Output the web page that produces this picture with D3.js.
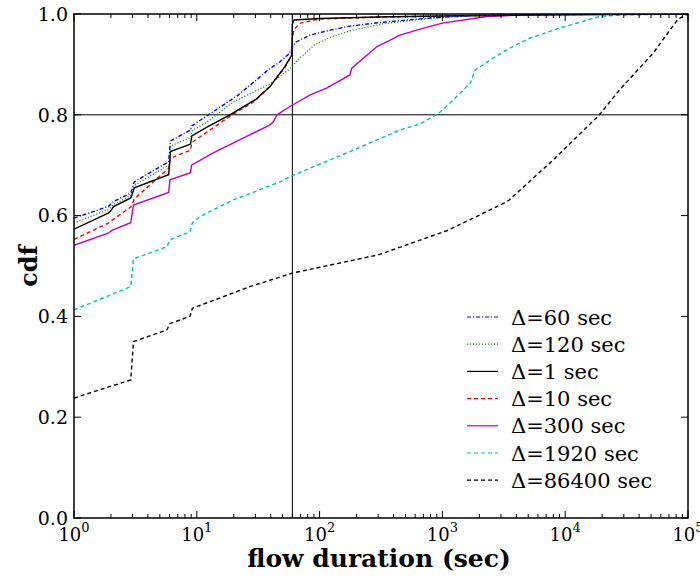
<!DOCTYPE html>
<html>
<head>
<meta charset="utf-8">
<script src="https://cdn.jsdelivr.net/npm/d3@7"></script>
<style>
  body { margin: 0; background: #fff; }
  text { font-family: "DejaVu Serif", "Liberation Serif", serif; fill: #000; }
</style>
</head>
<body>
<div id="chart"></div>
<script>
// series names, in legend order
var seriesNames = ["\u0394=60 sec", "\u0394=120 sec", "\u0394=1 sec", "\u0394=10 sec", "\u0394=300 sec", "\u0394=1920 sec", "\u0394=86400 sec"];

// flow duration (sec) / cdf pairs
var d60 = [[1,0.595],[1.9,0.618],[2.1,0.628],[2.9,0.645],[3.1,0.667],[5.9,0.707],[6.1,0.748],[8.9,0.77],[9.1,0.778],[21.7,0.839],[39.5,0.892],[47.5,0.905],[57,0.922],[60,0.935],[65,0.945],[83,0.958],[122,0.968],[177,0.976],[310,0.983],[700,0.991],[1700,0.997],[10000,1],[100000,1]];
var d120 = [[1,0.585],[1.9,0.612],[2.1,0.622],[2.9,0.64],[3.1,0.66],[5.9,0.70],[6.1,0.738],[8.9,0.755],[9.1,0.768],[12,0.785],[19.7,0.825],[40,0.862],[57,0.891],[60,0.897],[66,0.908],[90,0.938],[125,0.955],[180,0.967],[320,0.98],[800,0.992],[2000,0.997],[10000,1],[100000,1]];
var d1 = [[1,0.573],[1.9,0.605],[2,0.61],[2.1,0.618],[2.9,0.635],[3,0.645],[3.1,0.655],[5.9,0.681],[6,0.70],[6.1,0.727],[8.9,0.742],[9.1,0.758],[12,0.775],[18.6,0.80],[30,0.83],[39.5,0.856],[45,0.875],[52,0.895],[59.5,0.919],[60,0.98],[62,0.988],[100,0.991],[300,0.994],[1000,0.996],[5000,0.998],[100000,1]];
var d10 = [[1,0.553],[1.9,0.585],[2.1,0.593],[2.9,0.617],[3.1,0.633],[5.9,0.694],[6.1,0.714],[8.9,0.73],[9.1,0.745],[18.6,0.797],[30,0.828],[39.5,0.857],[52,0.893],[59.5,0.919],[60,0.95],[62,0.97],[70,0.982],[100,0.99],[300,0.994],[1000,0.996],[10000,0.999],[100000,1]];
var d300 = [[1,0.541],[1.9,0.565],[2.05,0.571],[2.9,0.586],[3.05,0.621],[5.9,0.646],[6.05,0.671],[8.9,0.685],[9.05,0.70],[13.5,0.724],[25.5,0.757],[39.5,0.78],[42,0.786],[45,0.80],[57,0.816],[83,0.839],[114,0.853],[177,0.879],[182,0.892],[292,0.935],[452,0.958],[657,0.97],[1000,0.982],[2300,0.995],[5160,0.999],[100000,1]];
var d1920 = [[1,0.413],[2.9,0.459],[3.05,0.514],[5.7,0.538],[6.05,0.552],[8.8,0.568],[9.2,0.585],[10.6,0.598],[19.7,0.631],[25.5,0.641],[47.5,0.667],[60.7,0.68],[177,0.727],[452,0.77],[657,0.782],[955,0.805],[1219,0.829],[1680,0.862],[1850,0.889],[2460,0.909],[3500,0.932],[5160,0.952],[9000,0.972],[19000,0.995],[27600,0.998],[100000,1]];
var d86400 = [[1,0.238],[2.9,0.274],[3.05,0.35],[5.7,0.373],[6.05,0.386],[8.8,0.40],[9.2,0.416],[27,0.459],[60,0.486],[300,0.522],[1111,0.571],[3200,0.625],[3500,0.631],[7950,0.71],[19000,0.80],[27600,0.849],[51900,0.922],[83000,0.99],[100000,1]];

var yTicks = [0, 0.2, 0.4, 0.6, 0.8, 1.0];
var xDecades = [0, 1, 2, 3, 4, 5];

var options = {width: 700, height: 580, margin: {left: 74, right: 12, top: 14, bottom: 62}};
var viewportWidth = options.width - options.margin.left - options.margin.right,
    viewportHeight = options.height - options.margin.top - options.margin.bottom;

var series = [
  {name: seriesNames[0], data: d60, color: "#0000ff", dash: "4,2,1,2", width: 1.4},
  {name: seriesNames[1], data: d120, color: "#008000", dash: "1,2", width: 1.3},
  {name: seriesNames[2], data: d1, color: "#000000", dash: null, width: 1.4},
  {name: seriesNames[3], data: d10, color: "#ff0000", dash: "4,3", width: 1.4},
  {name: seriesNames[4], data: d300, color: "#bf00bf", dash: null, width: 1.4},
  {name: seriesNames[5], data: d1920, color: "#00bfbf", dash: "4,3", width: 1.4},
  {name: seriesNames[6], data: d86400, color: "#000000", dash: "4,3", width: 1.4}
];

var svg = d3.select("#chart").append("svg")
  .attr("width", options.width)
  .attr("height", options.height);

svg.append("defs").append("clipPath").attr("id", "clip")
  .append("rect").attr("width", viewportWidth).attr("height", viewportHeight);

var viewport = svg.append("g")
  .attr("transform", "translate(" + options.margin.left + "," + options.margin.top + ")");

var xScale = d3.scaleLog().domain([1, 1e5]).range([0, viewportWidth]);
var yScale = d3.scaleLinear().domain([0, 1]).range([viewportHeight, 0]);

// reference lines at 60 sec and cdf 0.8
viewport.append("line")
  .attr("x1", xScale(60)).attr("x2", xScale(60))
  .attr("y1", 0).attr("y2", viewportHeight)
  .attr("stroke", "#000").attr("stroke-width", 1);
viewport.append("line")
  .attr("x1", 0).attr("x2", viewportWidth)
  .attr("y1", yScale(0.8)).attr("y2", yScale(0.8))
  .attr("stroke", "#000").attr("stroke-width", 1);

var line = d3.line()
  .x(function(d){ return xScale(d[0]) })
  .y(function(d){ return yScale(d[1]) });

viewport.append("g").attr("clip-path", "url(#clip)")
  .selectAll("path")
  .data(series.slice().reverse()).enter().append("path")
    .attr("d", function(d){ return line(d.data) })
    .attr("fill", "none")
    .attr("stroke", function(d){ return d.color })
    .attr("stroke-width", function(d){ return d.width })
    .attr("stroke-dasharray", function(d){ return d.dash });

// axes with inward ticks on all four sides
var minor = [];
xDecades.slice(0, -1).forEach(function(e){
  for (var k = 2; k < 10; k++) minor.push(k * Math.pow(10, e));
});
var major = xDecades.map(function(e){ return Math.pow(10, e) });

function xTickMarks(g, y, dir) {
  g.selectAll(null).data(major).enter().append("line")
    .attr("x1", function(d){ return xScale(d) }).attr("x2", function(d){ return xScale(d) })
    .attr("y1", y).attr("y2", y + dir * 7)
    .attr("stroke", "#000").attr("stroke-width", 1);
  g.selectAll(null).data(minor).enter().append("line")
    .attr("x1", function(d){ return xScale(d) }).attr("x2", function(d){ return xScale(d) })
    .attr("y1", y).attr("y2", y + dir * 4)
    .attr("stroke", "#000").attr("stroke-width", 1);
}
function yTickMarks(g, x, dir) {
  g.selectAll(null).data(yTicks).enter().append("line")
    .attr("y1", function(d){ return yScale(d) }).attr("y2", function(d){ return yScale(d) })
    .attr("x1", x).attr("x2", x + dir * 7)
    .attr("stroke", "#000").attr("stroke-width", 1);
}
var tickG = viewport.append("g");
xTickMarks(tickG, viewportHeight, -1);
xTickMarks(tickG, 0, 1);
yTickMarks(tickG, 0, 1);
yTickMarks(tickG, viewportWidth, -1);

viewport.append("rect")
  .attr("width", viewportWidth).attr("height", viewportHeight)
  .attr("fill", "none").attr("stroke", "#000").attr("stroke-width", 1.5);

// tick labels
viewport.selectAll(".ylab")
  .data(yTicks).enter().append("text")
    .attr("class", "ylab")
    .attr("x", -6)
    .attr("y", function(d){ return yScale(d) })
    .attr("dy", "0.36em")
    .attr("text-anchor", "end")
    .style("font-size", "19px")
    .text(function(d){ return d3.format(".1f")(d) });

var xlab = viewport.selectAll(".xlab")
  .data(xDecades).enter().append("text")
    .attr("class", "xlab")
    .attr("x", function(d){ return xScale(Math.pow(10, d)) })
    .attr("y", viewportHeight + 23)
    .attr("text-anchor", "middle")
    .style("font-size", "18px");
xlab.append("tspan").text("10");
xlab.append("tspan")
  .attr("dy", -9)
  .style("font-size", "13px")
  .text(function(d){ return d });

// axis titles
svg.append("text")
  .attr("x", options.margin.left + viewportWidth / 2 - 2)
  .attr("y", 567)
  .attr("text-anchor", "middle")
  .style("font-size", "25px")
  .style("font-weight", "bold")
  .text("flow duration (sec)");

svg.append("text")
  .attr("transform", "translate(37," + (options.margin.top + viewportHeight / 2) + ") rotate(-90)")
  .attr("text-anchor", "middle")
  .style("font-size", "24px")
  .style("font-weight", "bold")
  .text("cdf");

// legend
var legend = svg.append("g").attr("transform", "translate(467,317)");
var rows = legend.selectAll("g")
  .data(series).enter().append("g")
    .attr("transform", function(d, i){ return "translate(0," + (i * 27.2) + ")" });
rows.append("line")
  .attr("x1", 0).attr("x2", 31).attr("y1", 0).attr("y2", 0)
  .attr("stroke", function(d){ return d.color })
  .attr("stroke-width", 1.2)
  .attr("stroke-dasharray", function(d){ return d.dash });
rows.append("text")
  .attr("x", 44)
  .attr("dy", "0.36em")
  .style("font-size", "21px")
  .text(function(d){ return d.name });
</script>
</body>
</html>
